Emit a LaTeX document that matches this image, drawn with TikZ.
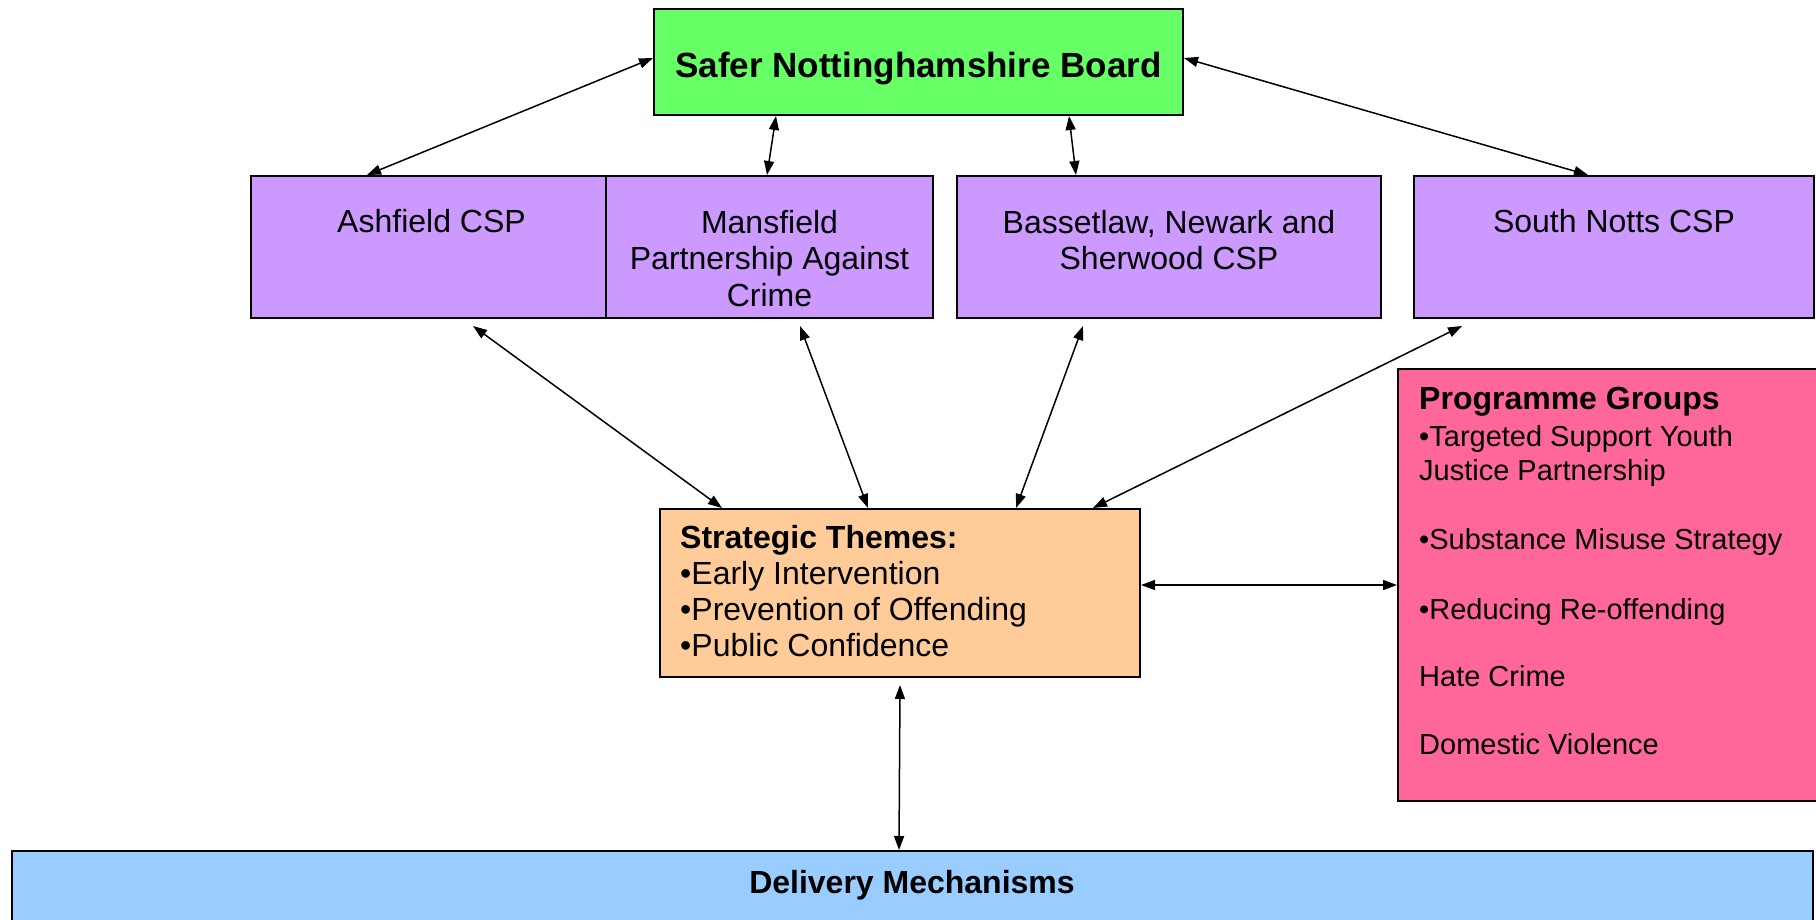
\documentclass[tikz,border=0pt]{standalone}
\usepackage{fontspec}
\setmainfont{Liberation Sans}
\usetikzlibrary{arrows.meta}
\definecolor{boardgreen}{HTML}{66FF66}
\definecolor{csppurple}{HTML}{CC99FF}
\definecolor{themeorange}{HTML}{FFCC99}
\definecolor{progpink}{HTML}{FF6699}
\definecolor{delivblue}{HTML}{99CCFF}
\newcommand\mybodyfont{\fontsize{32pt}{36.6pt}\selectfont}
\newcommand\mytitlefont{\fontsize{35pt}{40pt}\selectfont\bfseries}
\begin{document}
\begin{tikzpicture}[x=1pt,y=-1pt,
  box/.style={draw=black,line width=2pt,inner sep=0pt},
  txt/.style={inner sep=0pt,font=\mybodyfont,text=black},
  arr/.style={line width=1.5pt,{Triangle[length=14pt,width=10pt]}-{Triangle[length=14pt,width=10pt]}}]
\useasboundingbox (0,0) rectangle (1816,920);
\clip (0,0) rectangle (1816,920);
\fill[white] (0,0) rectangle (1816,920);
% boxes
\node[box,fill=boardgreen,minimum width=529pt,minimum height=106pt] (board) at (918.5,62) {};
\node[box,fill=csppurple,minimum width=361pt,minimum height=142pt] (ash) at (431.5,247) {};
\node[box,fill=csppurple,minimum width=327pt,minimum height=142pt] (mans) at (769.5,247) {};
\node[box,fill=csppurple,minimum width=424pt,minimum height=142pt] (bass) at (1169,247) {};
\node[box,fill=csppurple,minimum width=400pt,minimum height=142pt] (south) at (1614,247) {};
\node[box,fill=progpink,minimum width=432pt,minimum height=432pt] (prog) at (1614,585) {};
\node[box,fill=themeorange,minimum width=480pt,minimum height=168pt] (strat) at (900,593) {};
\node[box,fill=delivblue,minimum width=1801pt,minimum height=84pt] (deliv) at (912.5,893) {};
% texts
\node[txt,anchor=base,font=\mytitlefont] (boardtxt) at (918.5,78) {Safer Nottinghamshire Board};
\node[txt,anchor=base] (ashtxt) at (431.5,233) {Ashfield CSP};
\node[txt,anchor=north,align=center] (manstxt) at (769.5,209.7) {Mansfield\\Partnership Against\\Crime};
\node[txt,anchor=north,align=center] (basstxt) at (1169,210) {Bassetlaw, Newark and\\Sherwood CSP};
\node[txt,anchor=base] (southtxt) at (1614,233) {South Notts CSP};
\node[txt,anchor=north west,align=left,font=\fontsize{32pt}{36pt}\selectfont] (strattxt) at (680,525.4)
  {\textbf{Strategic Themes:}\\•Early Intervention\\•Prevention of Offending\\•Public Confidence};
\node[txt,anchor=base west,font=\fontsize{32pt}{36pt}\selectfont\bfseries] (progtitle) at (1419,409.5) {Programme Groups};
\node[txt,anchor=north west,align=left,font=\fontsize{29pt}{34pt}\selectfont] (progtxt) at (1419,425)
  {•Targeted Support Youth\\Justice Partnership\\[35pt]•Substance Misuse Strategy\\[36pt]•Reducing Re-offending\\[33pt]Hate Crime\\[34pt]Domestic Violence};
\node[txt,anchor=base,font=\fontsize{32pt}{36pt}\selectfont\bfseries] (delivtxt) at (912,893) {Delivery Mechanisms};
% connectors
\draw[arr] ([yshift=4pt]board.west) -- ([xshift=117pt]ash.north west);
\draw[arr] ([xshift=123pt]board.south west) -- ([xshift=162pt]mans.north west);
\draw[arr] ([xshift=416pt]board.south west) -- ([xshift=120pt]bass.north west);
\draw[arr] ([yshift=4pt]board.east) -- ([xshift=175pt]south.north west);
\draw[arr] ([xshift=223pt,yshift=-7pt]ash.south west) -- ([xshift=63pt]strat.north west);
\draw[arr] ([xshift=195pt,yshift=-7pt]mans.south west) -- ([xshift=209pt]strat.north west);
\draw[arr] ([xshift=127pt,yshift=-7pt]bass.south west) -- ([xshift=357pt]strat.north west);
\draw[arr] ([xshift=49pt,yshift=-7pt]south.south west) -- ([xshift=434pt]strat.north west);
\draw[arr] ([yshift=8pt]strat.east) -- (prog.west);
\draw[arr] ([yshift=-7pt]strat.south) -- ([xshift=888pt]deliv.north west);
\end{tikzpicture}
\end{document}
